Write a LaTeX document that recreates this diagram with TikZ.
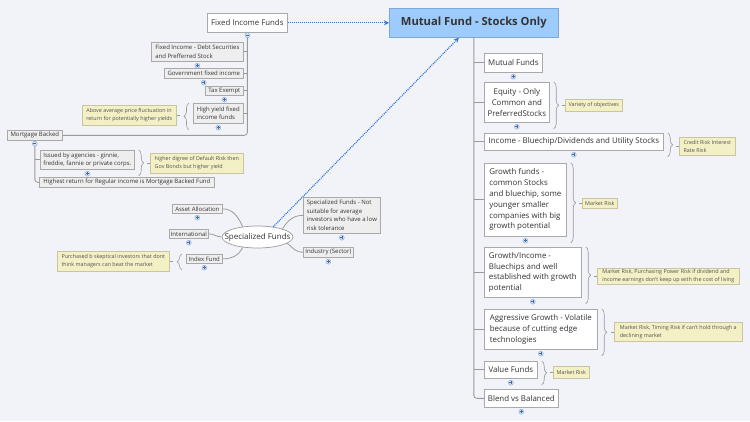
\documentclass[tikz,border=0pt]{standalone}
\usepackage{fontspec}
\setmainfont{Open Sans}
\usetikzlibrary{arrows.meta,decorations.pathreplacing,shapes.geometric}
\definecolor{bg}{HTML}{F2F3F8}
\definecolor{mainfill}{HTML}{9CCBFC}
\definecolor{maindraw}{HTML}{7FA7D3}
\definecolor{boxdraw}{HTML}{A9A9A9}
\definecolor{grayfill}{HTML}{EEEEEE}
\definecolor{notefill}{HTML}{F3F0C6}
\definecolor{notedraw}{HTML}{C9C59E}
\definecolor{txt}{HTML}{333333}
\definecolor{linec}{HTML}{9A9A9A}
\definecolor{dotblue}{HTML}{2A78DE}
\definecolor{mkfill}{HTML}{D3E1F3}
\definecolor{mkdraw}{HTML}{8FA9CE}
\definecolor{mkplus}{HTML}{3F6BA8}
\tikzset{
  rbox/.style={draw=boxdraw, fill=white, line width=0.7pt, text=txt, inner sep=1pt, anchor=north west,
     font=\fontsize{7.9}{10.8}\selectfont, align=left},
  lbox/.style={draw=boxdraw, fill=grayfill, line width=0.7pt, text=txt, inner sep=1pt, anchor=north west,
     font=\fontsize{6}{8.7}\selectfont, align=left},
  notebox/.style={draw=notedraw, fill=notefill, line width=0.6pt, text=txt!85, inner sep=1pt, anchor=north west,
     font=\fontsize{5.4}{7.6}\selectfont, align=left},
  conn/.style={draw=linec, line width=0.8pt},
  bracestyle/.style={draw=linec, line width=0.6pt, decorate, decoration={brace, amplitude=5pt}},
  dotarrow/.style={draw=dotblue, line width=1.2pt, dash pattern=on 1pt off 1pt, -{Stealth[length=5pt,width=5pt]}},
  plusm/.style={circle, minimum size=5pt, inner sep=0pt, fill=mkfill, draw=mkdraw, line width=0.4pt,
     path picture={\draw[mkplus, line width=0.5pt]
       ([xshift=-1.5pt]path picture bounding box.center) -- ([xshift=1.5pt]path picture bounding box.center)
       ([yshift=-1.5pt]path picture bounding box.center) -- ([yshift=1.5pt]path picture bounding box.center);}},
  minusm/.style={circle, minimum size=5pt, inner sep=0pt, fill=mkfill, draw=mkdraw, line width=0.4pt,
     path picture={\draw[mkplus, line width=0.5pt]
       ([xshift=-1.5pt]path picture bounding box.center) -- ([xshift=1.5pt]path picture bounding box.center);}}
}
\begin{document}
\begin{tikzpicture}[x=1pt,y=-1pt]
\fill[bg] (0,0) rectangle (750,421);
\useasboundingbox (0,0) rectangle (750,421);

% main
\node[draw=maindraw, fill=mainfill, line width=0.7pt, text=txt, anchor=north west, minimum width=169pt, minimum height=29pt,
  inner sep=0pt, font=\fontsize{11.2}{13}\selectfont\bfseries] (main) at (389,8) {Mutual Fund - Stocks Only};

% fixed income
\node[rbox, minimum width=80pt, minimum height=19pt, align=center, font=\fontsize{7.8}{10}\selectfont] (fif) at (207,13) {Fixed Income Funds};
\node[lbox, minimum width=92pt, minimum height=19pt] (fi1) at (151,42) {Fixed Income - Debt Securities\\and Prefferred Stock};
\node[lbox, minimum width=79pt, minimum height=10pt] (fi2) at (164,68) {Government fixed income};
\node[lbox, minimum width=38pt, minimum height=9pt] (fi3) at (205,86) {Tax Exempt};
\node[lbox, minimum width=50pt, minimum height=20pt] (fi4) at (193,103) {High yield fixed\\income funds};
\node[notebox, minimum width=94pt, minimum height=20pt] (n1) at (82,105) {Above average price fluctuation in\\return for potentially higher yields};
\node[lbox, minimum width=55pt, minimum height=10pt] (mb) at (7,130) {Mortgage Backed};
\node[lbox, minimum width=94pt, minimum height=19pt] (iss) at (40,150) {Issued by agencies - ginnie,\\freddie, fannie or private corps.};
\node[notebox, minimum width=93pt, minimum height=20pt] (n2) at (150,153) {higher digree of Default Risk then\\Gov Bonds but higher yield};
\node[lbox, minimum width=175pt, minimum height=10pt] (hr) at (39,177) {Highest return for Regular income is Mortgage Backed Fund};

\draw[conn, rounded corners=3pt] (fif.south) |- (mb.east);
\foreach \c in {fi1,fi2,fi3,fi4} \draw[conn] (fif.south |- \c.east) -- (\c.east);
\draw[conn, rounded corners=3pt] (mb.south) |- (hr.west);
\draw[conn] (mb.south |- iss.west) -- (iss.west);

% specialized
\node[ellipse, draw=linec, fill=white, line width=0.7pt, minimum width=71pt, minimum height=22pt, inner sep=0pt, text=txt,
  font=\fontsize{8}{9}\selectfont] (sf) at (257.5,237) {\makebox[0pt]{Specialized Funds}};
\node[lbox, minimum width=50pt, minimum height=9pt, align=center] (aa) at (172,204) {Asset Allocation};
\node[lbox, minimum width=39pt, minimum height=9pt, align=center] (intl) at (169,229) {International};
\node[lbox, minimum width=36pt, minimum height=9pt, align=center] (idx) at (186,254) {Index Fund};
\node[notebox, minimum width=112pt, minimum height=20pt] (n3) at (57,251) {Purchased b skeptical investors that dont\\think managers can beat the market};
\node[lbox, minimum width=77pt, minimum height=36pt] (spn) at (303,197) {Specialized Funds - Not\\suitable for average\\investors who have a low\\risk tolerance};
\node[lbox, minimum width=50pt, minimum height=10pt, align=center] (ind) at (303,247) {Industry (Sector)};

\draw[conn] (aa.east) to[out=0,in=115] (sf.145);
\draw[conn] (intl.east) to[out=0,in=180] (sf.west);
\draw[conn] (idx.east) to[out=0,in=245] (sf.215);
\draw[conn] (sf.18) to[out=60,in=180] (spn.west);
\draw[conn] (sf.-12) to[out=-40,in=180] (ind.west);

% right column
\node[rbox, minimum width=58pt, minimum height=19pt, align=center] (mf) at (484,53) {Mutual Funds};
\node[rbox, minimum width=65pt, minimum height=40pt, align=center] (eq) at (484,82) {Equity - Only\\Common and\\PreferredStocks};
\node[rbox, minimum width=179pt, minimum height=17pt, align=center] (inc) at (484,133) {Income - Bluechip/Dividends and Utility Stocks};
\node[rbox, minimum width=82pt, minimum height=73pt] (gr) at (484,163) {Growth funds -\\common Stocks\\and bluechip, some\\younger smaller\\companies with big\\growth potential};
\node[rbox, minimum width=97pt, minimum height=50pt] (gi) at (484,247) {Growth/Income -\\Bluechips and well\\established with growth\\potential};
\node[rbox, minimum width=113pt, minimum height=40pt] (ag) at (484,309) {Aggressive Growth - Volatile\\because of cutting edge\\technologies};
\node[rbox, minimum width=53pt, minimum height=17pt, align=center] (vf) at (484,361) {Value Funds};
\node[rbox, minimum width=74pt, minimum height=18pt, align=center] (bl) at (484,389) {Blend vs Balanced};

\node[notebox, minimum width=57pt, minimum height=12pt] (n4) at (565,99) {Variety of objectives};
\node[notebox, minimum width=56pt, minimum height=18pt] (n5) at (679,137) {Credit Risk Interest\\Rate Risk};
\node[notebox, minimum width=35pt, minimum height=10pt] (n6) at (582,198) {Market Risk};
\node[notebox, minimum width=142pt, minimum height=16pt] (n7) at (597,268) {Market Risk, Purchasing Power Risk if dividend and\\income earnings don't keep up with the cost of living};
\node[notebox, minimum width=128pt, minimum height=19pt] (n8) at (614,322) {Market Risk, Timing Risk if can't hold through a\\declining market};
\node[notebox, minimum width=36pt, minimum height=12pt] (n9) at (553,366) {Market Risk};

\draw[conn, rounded corners=3pt] (main.south) |- (bl.west);
\foreach \c in {mf,eq,inc,gr,gi,ag,vf} \draw[conn] (main.south |- \c.west) -- (\c.west);

% braces (right-pointing)
\foreach \b/\n in {eq/n4,inc/n5,gr/n6,gi/n7,ag/n8,vf/n9,iss/n2} {
  \draw[bracestyle] ([xshift=4pt]\b.north east) -- ([xshift=4pt,yshift=-6pt]\b.south east);
  \draw[conn, line width=0.5pt] (\n.west) -- ++(-3pt,0);
}
% braces (left-pointing)
\foreach \b/\n in {fi4/n1,idx/n3} {
  \draw[bracestyle] ([xshift=-4pt,yshift=-6pt]\b.south west) -- ([xshift=-4pt]\b.north west);
  \draw[conn, line width=0.5pt] (\n.east) -- ++(3pt,0);
}

% dotted relationships
\draw[dotarrow] (fif.east) -- (main.west);
\draw[dotarrow] (sf.33) -- ([xshift=-15pt]main.south);

% markers
\node[minusm] (mk0) at ([yshift=-2.5pt]fif.south) {};
\node[minusm] (mk1) at ([yshift=-3pt]mb.south) {};
\foreach \c in {fi1,fi2,fi3,fi4,iss,aa,intl,idx,spn,ind,mf,eq,inc,gr,gi,ag,vf,bl}
  \node[plusm] (mk-\c) at ([yshift=-4pt]\c.south) {};
\end{tikzpicture}
\end{document}
